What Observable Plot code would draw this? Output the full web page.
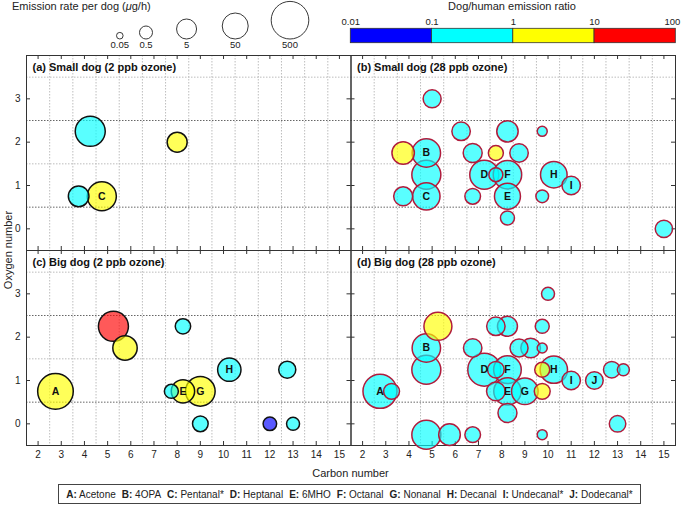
<!DOCTYPE html>
<html><head><meta charset="utf-8">
<script src="https://cdn.jsdelivr.net/npm/d3@7"></script>
<script src="https://cdn.jsdelivr.net/npm/@observablehq/plot@0.6"></script>
<style>
body{margin:0;background:#fff;font-family:"Liberation Sans",Arial,sans-serif;color:#222;}
#root{position:relative;width:682px;height:508px;overflow:hidden;background:#fff;}
#root > svg, .abs{position:absolute;left:0;top:0;}
</style></head><body><div id="root"></div>
<script>
// ---------- tick labels / categories ----------
const xTicks = [2,3,4,5,6,7,8,9,10,11,12,13,14,15];
const xGrid = [2.5,3.5,4.5,5.5,6.5,7.5,8.5,9.5,10.5,11.5,12.5,13.5,14.5];
const yTicks = [0,1,2,3];
const yGridLight = [1.5,3.5];
const yGridDark = [0.5,2.5];
const ozoneLevels = ["2 ppb","28 ppb"];
const dogSizes = ["Small dog","Big dog"];
const panelTitles = ["(a) Small dog (2 ppb ozone)","(b) Small dog (28 ppb ozone)","(c) Big dog (2 ppb ozone)","(d) Big dog (28 ppb ozone)"];
const rateLegend = [0.05,0.5,5,50,500];
const ratioTicks = [0.01,0.1,1,10,100];
const ratioColors = ["#0000ff","#00ffff","#ffff00","#ff0000"];
const compoundLetters = ["A","B","C","D","E","F","G","H","I","J"];
const compoundNames = ["Acetone","4OPA","Pentanal*","Heptanal","6MHO","Octanal","Nonanal","Decanal","Undecanal*","Dodecanal*"];

// ---------- (a) Small dog, 2 ppb ----------
const aCarbon = [4.25,8,3.75,4.75];
const aOxygen = [2.25,2,0.75,0.75];
const aRate   = [111,5,6.3,91];
const aRatio  = [0.4,3,0.4,3];
const aLabel  = ["","","","C"];

// ---------- (b) Small dog, 28 ppb ----------
const bCarbon = [5,6.25,8.25,9.75,3.75,4.75,6.75,7.75,8.75,4.75,7.25,7.75,8.25,10.25,11,3.75,4.75,6.75,8.25,9.75,8.25,15];
const bOxygen = [3,2.25,2.25,2.25,1.75,1.75,1.75,1.75,1.75,1.25,1.25,1.25,1.25,1.25,1,0.75,0.75,0.75,0.75,0.75,0.25,0];
const bRate   = [2.6,3,8.6,0.17,12.6,81,3.6,0.97,3,91,91,0.7,81,56,3,3.6,66,1.2,50,0.45,0.7,2.1];
const bRatio  = [0.4,0.4,0.4,0.4,3,0.4,0.4,3,0.4,0.4,0.4,0.4,0.4,0.4,0.4,0.4,0.4,0.4,0.4,0.4,0.4,0.4];
const bLabel  = ["","","","","","B","","","","","D","","F","H","I","","C","","E","","",""];

// ---------- (c) Big dog, 2 ppb ----------
const cCarbon = [5.25,5.75,8.25,10.25,12.75,2.75,7.75,8.25,9,9,12,13];
const cOxygen = [2.25,1.75,2.25,1.25,1.25,0.75,0.75,0.75,0.75,0,0,0];
const cRate   = [111,27,1.1,18,1.9,336,0.7,18,102,1.2,0.6,0.5];
const cRatio  = [20,3,0.4,0.4,0.4,3,0.4,3,3,0.4,0.05,0.4];
const cLabel  = ["","","","H","","A","","E","G","","",""];

// ---------- (d) Big dog, 28 ppb ----------
const dCarbon = [10,5.25,7.75,8.25,9.75,4.75,6.75,8.75,9.25,9.75,4.75,7.25,7.75,8.25,9.75,10.25,11,12,12.75,13.25,2.75,3.25,7.75,8.25,9,9.75,8.25,13,4.75,5.75,6.75,9.75];
const dOxygen = [3,2.25,2.25,2.25,2.25,1.75,1.75,1.75,1.75,1.75,1.25,1.25,1.25,1.25,1.25,1.25,1,1,1.25,1.25,0.75,0.75,0.75,0.75,0.75,0.75,0.25,0,-0.25,-0.25,-0.25,-0.25];
const dRate   = [0.5,74,3,5,0.7,81,3,2.6,4.4,0.17,91,201,1.6,69,0.97,66,3,2.3,1.6,0.35,245,1.3,3.2,66,56,1.3,3.6,1.6,91,9.3,1.2,0.17];
const dRatio  = [0.4,3,0.4,0.4,0.4,0.4,0.4,0.4,0.4,0.4,0.4,0.4,0.4,0.4,3,0.4,0.4,0.4,0.4,0.4,0.4,0.4,0.4,0.4,0.4,3,0.4,0.4,0.4,0.4,0.4,0.4];
const dLabel  = ["","","","","","B","","","","","","D","","F","","H","I","J","","","A","","","E","G","","","","","","",""];

// ---------- build tables ----------
function rows(dog, ozone, C, O, R, Q, L) {
  return C.map((c, i) => ({dog, ozone, carbon: c, oxygen: O[i], rate: R[i], ratio: Q[i], label: L[i]}));
}
const data = [
  ...rows(dogSizes[0], ozoneLevels[0], aCarbon, aOxygen, aRate, aRatio, aLabel),
  ...rows(dogSizes[0], ozoneLevels[1], bCarbon, bOxygen, bRate, bRatio, bLabel),
  ...rows(dogSizes[1], ozoneLevels[0], cCarbon, cOxygen, cRate, cRatio, cLabel),
  ...rows(dogSizes[1], ozoneLevels[1], dCarbon, dOxygen, dRate, dRatio, dLabel)
];
const titleRows = panelTitles.map((t, i) => ({title: t, dog: dogSizes[Math.floor(i / 2)], ozone: ozoneLevels[i % 2]}));

const W = 682, H = 508, mL = 26, mR = 7, mT = 55, mB = 63;
const facetW = (W - mL - mR) / 2, facetH = (H - mT - mB) / 2;
const rOpts = {type: "log", domain: rateLegend, range: [3.3, 6.5, 10, 13, 18.8]};
const colorOpts = {type: "threshold", domain: ratioTicks.slice(1, -1), range: ratioColors};
const font = "Liberation Sans, Arial, sans-serif";
const root = document.getElementById("root");

const main = Plot.plot({
  width: W, height: H, marginLeft: mL, marginRight: mR, marginTop: mT, marginBottom: mB,
  style: {fontFamily: font, fontSize: "10px", background: "transparent", overflow: "visible", color: "#222"},
  x: {domain: [1.5, 15.5]},
  y: {domain: [-0.5, 4]},
  fx: {domain: ozoneLevels, padding: 0, axis: null, round: false},
  fy: {domain: dogSizes, padding: 0, axis: null, round: false},
  r: rOpts,
  color: colorOpts,
  marks: [
    Plot.ruleX(xGrid, {stroke: "#bdbdbd", strokeDasharray: "1.5,1.5"}),
    Plot.ruleY(yGridLight, {stroke: "#bdbdbd", strokeDasharray: "1.5,1.5"}),
    Plot.ruleY(yGridDark, {stroke: "#666", strokeDasharray: "1.5,1.5"}),
    Plot.ruleX(xTicks, {insetTop: facetH - 4, stroke: "#333"}),
    Plot.ruleX(xTicks, {insetBottom: facetH - 4, stroke: "#333"}),
    Plot.ruleY(yTicks, {insetRight: facetW - 4, stroke: "#333"}),
    Plot.ruleY(yTicks, {insetLeft: facetW - 4, stroke: "#333"}),
    Plot.frame({stroke: "#333"}),
    Plot.dot(data.filter(d => d.ozone === ozoneLevels[0]), {x: "carbon", y: "oxygen", fx: "ozone", fy: "dog", r: "rate", fill: "ratio", fillOpacity: 0.65, stroke: "#111", strokeWidth: 1.5}),
    Plot.dot(data.filter(d => d.ozone === ozoneLevels[1]), {x: "carbon", y: "oxygen", fx: "ozone", fy: "dog", r: "rate", fill: "ratio", fillOpacity: 0.65, stroke: "#b01c3c", strokeWidth: 1.5}),
    Plot.text(data.filter(d => d.label), {x: "carbon", y: "oxygen", fx: "ozone", fy: "dog", text: "label", fontWeight: "bold", fontSize: 10.5, fill: "#111"}),
    Plot.text(titleRows, {fx: "ozone", fy: "dog", text: "title", frameAnchor: "top-left", dx: 6, dy: 7.5, lineAnchor: "top", textAnchor: "start", fontWeight: "bold", fontSize: 11, fill: "#111"}),
    Plot.axisX({ticks: xTicks, tickSize: 0, tickPadding: 5, label: null, fontSize: 10, tickFormat: d => String(d)}),
    Plot.axisY({ticks: yTicks, tickSize: 0, tickPadding: 6, label: null, fontSize: 10, tickFormat: d => String(d)})
  ]
});
root.appendChild(main);

// ---------- size legend ----------
const rScale = Plot.scale({r: rOpts});
const sizeLegend = Plot.plot({
  width: 340, height: 55, margin: 0,
  style: {fontFamily: font, fontSize: "9.5px", background: "transparent", overflow: "visible", color: "#222"},
  x: {type: "pow", exponent: 1.35, domain: [0, rateLegend.length - 1], range: [119.3, 289.5], axis: null},
  y: {type: "identity", axis: null},
  r: rOpts,
  marks: [
    Plot.dot(rateLegend, {x: (d, i) => i, y: d => 38.5 - rScale.apply(d), r: d => d, stroke: "#222", strokeWidth: 0.9}),
    Plot.text(rateLegend, {x: (d, i) => i, y: () => 44, text: d => String(d), fontSize: 9.5, fill: "#222"})
  ]
});
sizeLegend.classList.add("abs");
root.appendChild(sizeLegend);

// ---------- colour bar ----------
const ratioBins = ratioTicks.slice(0, -1).map((lo, i) => ({lo, hi: ratioTicks[i + 1]}));
const colorBar = Plot.plot({
  width: W, height: 46, marginLeft: 350.3, marginRight: 6.7, marginTop: 28.3, marginBottom: 3.3,
  style: {fontFamily: font, fontSize: "9.5px", background: "transparent", overflow: "visible", color: "#222"},
  x: {type: "log", domain: [ratioTicks[0], ratioTicks[ratioTicks.length - 1]], axis: null},
  y: {domain: [0, 1], axis: null},
  color: colorOpts,
  marks: [
    Plot.rect(ratioBins, {x1: "lo", x2: "hi", y1: 0, y2: 1, fill: "lo", stroke: "#333", strokeWidth: 0.8}),
    Plot.text(ratioTicks.slice(0, -1), {x: d => d, text: d => String(d), frameAnchor: "top", dy: -4, lineAnchor: "bottom", fontSize: 9.5, fill: "#222"}),
    Plot.text(ratioTicks.slice(-1), {x: d => d, text: d => String(d), frameAnchor: "top", dy: -4, dx: -3.5, lineAnchor: "bottom", fontSize: 9.5, fill: "#222"})
  ]
});
colorBar.classList.add("abs");
root.appendChild(colorBar);

// ---------- text elements ----------
function addDiv(html, css) {
  const d = document.createElement("div");
  d.className = "abs";
  d.innerHTML = html;
  Object.assign(d.style, css);
  root.appendChild(d);
  return d;
}
addDiv('Emission rate per dog (<i>μ</i>g/h)', {left: "12px", top: "1.4px", fontSize: "11px", lineHeight: "11px", whiteSpace: "nowrap"});
addDiv('Dog/human emission ratio', {left: "412px", top: "0.5px", width: "200px", textAlign: "center", fontSize: "11px", lineHeight: "11px"});
addDiv('Carbon number', {left: "250.5px", top: "467px", width: "200px", textAlign: "center", fontSize: "11px", lineHeight: "12px"});
addDiv('Oxygen number', {left: "-67px", top: "243px", width: "150px", height: "14px", textAlign: "center", fontSize: "11px", lineHeight: "14px", transform: "rotate(-90deg)"});

const box = addDiv('', {left: "58px", top: "484px", width: "583px", height: "20px", boxSizing: "border-box", border: "1px solid #444", fontSize: "10px", display: "flex", alignItems: "center", justifyContent: "center", whiteSpace: "nowrap"});
compoundLetters.forEach((L, i) => {
  const s = document.createElement("span");
  s.style.margin = "0 3px";
  s.innerHTML = "<b>" + L + ":</b> " + compoundNames[i];
  box.appendChild(s);
});
</script></body></html>
